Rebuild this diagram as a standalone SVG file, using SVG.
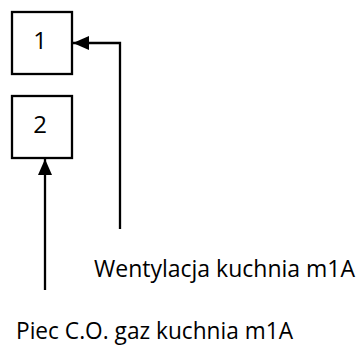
<svg xmlns="http://www.w3.org/2000/svg" width="361" height="347" viewBox="0 0 361 347">
<style>
.box{fill:#fff;stroke:#000;stroke-width:2.3}
.t{font-family:"Open Sans","Liberation Sans",sans-serif;fill:#000}
.c{stroke:#000;stroke-width:2.3;fill:none}
</style>
<defs>
<marker id="ah" markerWidth="16" markerHeight="14" refX="16" refY="7" orient="auto" markerUnits="userSpaceOnUse">
<path d="M0,0 L16,7 L0,14 Z" fill="#000"/>
</marker>
</defs>
<rect width="361" height="347" fill="#fff"/>
<g id="node1">
<rect class="box" x="12" y="12" width="60" height="62"/>
<text class="t" x="40" y="49" font-size="24" text-anchor="middle">1</text>
</g>
<g id="node2">
<rect class="box" x="12" y="96" width="60" height="62"/>
<text class="t" x="40" y="133" font-size="24" text-anchor="middle">2</text>
</g>
<g id="connectors">
<polyline class="c" points="120,229 120,43 73,43" marker-end="url(#ah)"/>
<line class="c" x1="45" y1="290" x2="45" y2="159" marker-end="url(#ah)"/>
</g>
<g id="labels">
<text class="t" x="94" y="277" font-size="23" textLength="261" lengthAdjust="spacingAndGlyphs">Wentylacja kuchnia m1A</text>
<text class="t" x="16" y="339" font-size="23" textLength="277" lengthAdjust="spacingAndGlyphs">Piec C.O. gaz kuchnia m1A</text>
</g>
</svg>
